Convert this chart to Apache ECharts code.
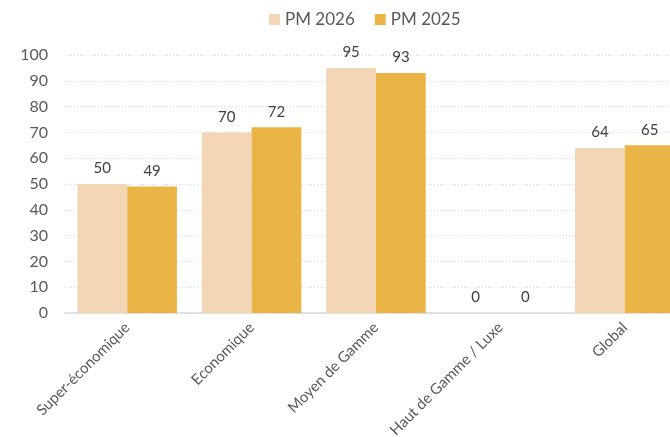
<!DOCTYPE html>
<html>
<head>
<meta charset="utf-8">
<script src="https://cdn.jsdelivr.net/npm/echarts@6/dist/echarts.min.js"></script>
<style>
  html, body { margin: 0; padding: 0; background: #fff; }
  #chart { width: 670px; height: 437px; }
</style>
</head>
<body>
<div id="chart"></div>
<script>
const categories = ['Super-économique', 'Economique', 'Moyen de Gamme', 'Haut de Gamme / Luxe', 'Global'];
const pm2026 = [50, 70, 95, 0, 64];
const pm2025 = [49, 72, 93, 0, 65];
const yTicks = { min: 0, max: 100, interval: 10 };

const FONT = 'Lato, "Noto Sans", sans-serif';
const TEXT = '#595959';

const chart = echarts.init(document.getElementById('chart'), null, { renderer: 'canvas' });

const label = {
  show: true,
  position: 'top',
  distance: 8,
  color: '#404040',
  fontFamily: FONT,
  fontSize: 15
};

chart.setOption({
  animation: false,
  legend: {
    top: 6,
    left: 264,
    itemWidth: 11,
    itemHeight: 11,
    itemGap: 20,
    icon: 'rect',
    textStyle: { color: TEXT, fontFamily: FONT, fontSize: 17 },
    data: ['PM 2026', 'PM 2025']
  },
  // plot area runs past the right edge of the canvas
  grid: { left: 65, top: 55, width: 622, height: 258, outerBoundsMode: 'none', containLabel: false },
  xAxis: {
    type: 'category',
    data: categories,
    axisLine: { lineStyle: { color: '#d9d9d9', width: 1.5 } },
    axisTick: { show: false },
    axisLabel: {
      rotate: 45,
      interval: 0,
      margin: 12,
      color: TEXT,
      fontFamily: FONT,
      fontSize: 15
    }
  },
  yAxis: {
    type: 'value',
    min: yTicks.min,
    max: yTicks.max,
    interval: yTicks.interval,
    axisLine: { show: false },
    axisTick: { show: false },
    axisLabel: { color: TEXT, fontFamily: FONT, fontSize: 16, margin: 17 },
    splitLine: { lineStyle: { color: '#d9d9d9', type: [1, 2], width: 1 } }
  },
  series: [
    {
      name: 'PM 2026',
      type: 'bar',
      data: pm2026,
      barGap: '0%',
      barCategoryGap: '20%',
      itemStyle: { color: '#F2D6B5' },
      label: label
    },
    {
      name: 'PM 2025',
      type: 'bar',
      data: pm2025,
      itemStyle: { color: '#EBB447' },
      label: label
    }
  ]
});
</script>
</body>
</html>
